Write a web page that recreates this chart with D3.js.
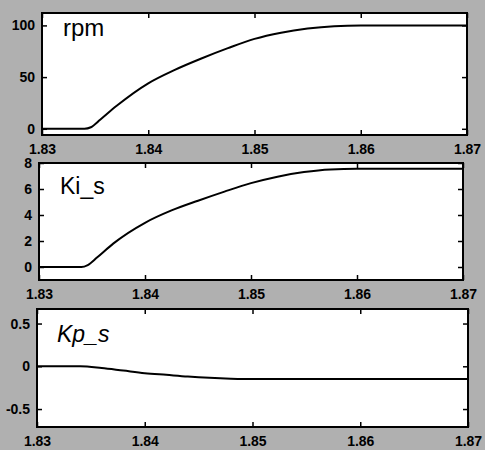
<!DOCTYPE html>
<html>
<head>
<meta charset="utf-8">
<script src="https://cdn.jsdelivr.net/npm/d3@7"></script>
<style>
  body { margin: 0; background: #fff; }
  svg { display: block; }
</style>
</head>
<body>
<svg width="485" height="450"></svg>
<script>
const svg = d3.select('svg');

const width = +svg.attr('width');
const height = +svg.attr('height');

// time values (s) and traces
const rpmT = [1.83, 1.834, 1.8346, 1.8355, 1.837, 1.84, 1.8425, 1.845, 1.8475, 1.85, 1.8525, 1.855, 1.8575, 1.86, 1.87];
const rpmV = [0, 0, 1.5, 9, 22, 44, 57, 68, 78, 87, 93, 97, 99.3, 100, 100];

const kiT = [1.83, 1.834, 1.8346, 1.8355, 1.837, 1.84, 1.8425, 1.845, 1.8475, 1.85, 1.8525, 1.855, 1.8575, 1.86, 1.87];
const kiV = [0, 0, 0.15, 0.75, 1.8, 3.4, 4.35, 5.1, 5.8, 6.45, 6.95, 7.3, 7.5, 7.55, 7.55];

const kpT = [1.83, 1.834, 1.836, 1.838, 1.84, 1.842, 1.844, 1.846, 1.848, 1.85, 1.87];
const kpV = [0, 0, -0.02, -0.05, -0.08, -0.1, -0.12, -0.135, -0.145, -0.15, -0.15];

const xTicks = [1.83, 1.84, 1.85, 1.86, 1.87];

const panels = [
  { name: 'rpm', t: rpmT, v: rpmV, yDomain: [-6, 112], yTicks: [0, 50, 100],
    box: { left: 42, right: 467, top: 13, bottom: 135 }, label: [63, 36, 24], italic: false },
  { name: 'Ki_s', t: kiT, v: kiV, yDomain: [-1, 8], yTicks: [0, 2, 4, 6, 8],
    box: { left: 39, right: 463, top: 163, bottom: 280 }, label: [60, 194, 23], italic: false },
  { name: 'Kp_s', t: kpT, v: kpV, yDomain: [-0.71, 0.67], yTicks: [-0.5, 0, 0.5],
    box: { left: 37, right: 468, top: 309, bottom: 427 }, label: [57, 342, 23], italic: true }
];

// grey halftone-like background
svg.append('rect')
  .attr('width', width)
  .attr('height', height)
  .attr('fill', '#b0b0b0');

const render = p => {
  const b = p.box;
  const xScale = d3.scaleLinear().domain([1.83, 1.87]).range([b.left, b.right]);
  const yScale = d3.scaleLinear().domain(p.yDomain).range([b.bottom, b.top]);

  const g = svg.append('g');

  g.append('rect')
    .attr('x', b.left).attr('y', b.top)
    .attr('width', b.right - b.left).attr('height', b.bottom - b.top)
    .attr('fill', '#fff');

  const line = d3.line()
    .x((d, i) => xScale(p.t[i]))
    .y(d => yScale(d))
    .curve(d3.curveMonotoneX);

  g.append('path')
    .datum(p.v)
    .attr('d', line)
    .attr('fill', 'none')
    .attr('stroke', '#000')
    .attr('stroke-width', 2);

  // bottom axis with inward ticks, labels below
  const xAxis = d3.axisBottom(xScale).tickValues(xTicks).tickSize(-5).tickPadding(9)
    .tickFormat(d3.format('.2f'));
  g.append('g')
    .attr('transform', `translate(0,${b.bottom})`)
    .call(xAxis)
    .call(s => s.select('.domain').remove());

  const xTop = d3.axisTop(xScale).tickValues(xTicks).tickSize(-5).tickFormat('');
  g.append('g')
    .attr('transform', `translate(0,${b.top})`)
    .call(xTop)
    .call(s => s.select('.domain').remove());

  const yAxis = d3.axisLeft(yScale).tickValues(p.yTicks).tickSize(-5).tickPadding(7)
    .tickFormat(d => String(d));
  g.append('g')
    .attr('transform', `translate(${b.left},0)`)
    .call(yAxis)
    .call(s => s.select('.domain').remove());

  const yRight = d3.axisRight(yScale).tickValues(p.yTicks).tickSize(-5).tickFormat('');
  g.append('g')
    .attr('transform', `translate(${b.right},0)`)
    .call(yRight)
    .call(s => s.select('.domain').remove());

  g.selectAll('.tick line').attr('stroke', '#000').attr('stroke-width', 1.5);
  g.selectAll('.tick text')
    .attr('fill', '#000')
    .style('font-family', '"Liberation Sans", Arial, sans-serif')
    .style('font-size', '14px')
    .style('font-weight', 'bold');

  g.append('rect')
    .attr('x', b.left).attr('y', b.top)
    .attr('width', b.right - b.left).attr('height', b.bottom - b.top)
    .attr('fill', 'none')
    .attr('stroke', '#000')
    .attr('stroke-width', 2);

  g.append('text')
    .attr('x', p.label[0])
    .attr('y', p.label[1])
    .style('font-family', '"Liberation Sans", Arial, sans-serif')
    .style('font-size', p.label[2] + 'px')
    .style('font-style', p.italic ? 'italic' : 'normal')
    .attr('fill', '#000')
    .text(p.name);
};

panels.forEach(render);
</script>
</body>
</html>
